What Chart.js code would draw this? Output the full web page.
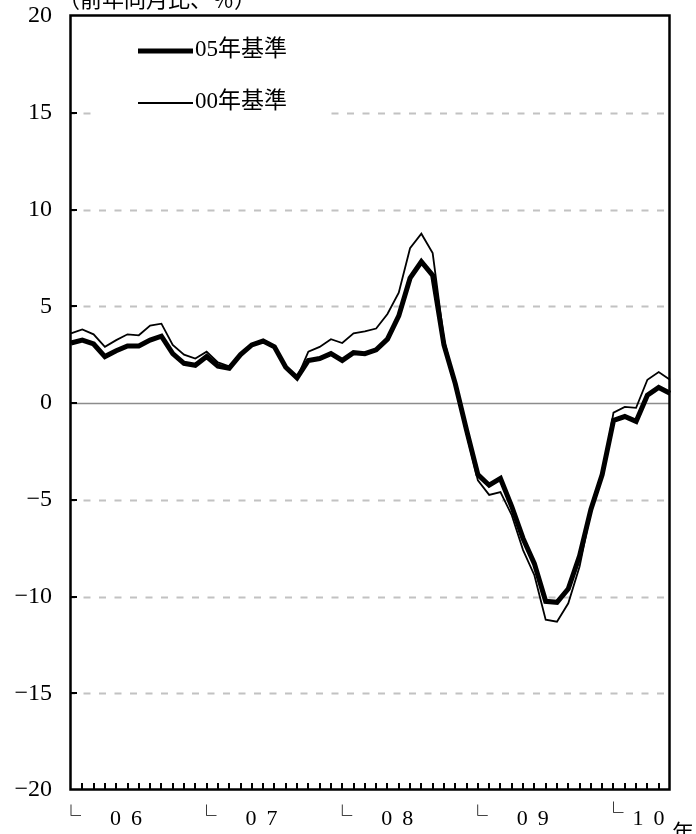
<!DOCTYPE html>
<html lang="ja">
<head>
<meta charset="utf-8">
<title>前年同月比</title>
<script src="https://cdn.jsdelivr.net/npm/chart.js@4.4.1/dist/chart.umd.min.js"></script>
<style>
  html, body { margin: 0; padding: 0; background: #fff; }
  #wrap { width: 696px; height: 834px; }
</style>
</head>
<body>
<div id="wrap"><canvas id="chart" width="696" height="834"></canvas></div>
<script>
/* monthly y/y change, 2006-01 .. 2010-06, two index bases */
const yearLabels = ['06', '07', '08', '09', '10'];
const seriesNames = ['05年基準', '00年基準'];
const yTitle = '（前年同月比、％）';
const xUnit = '年';

// category labels: one per month
const months = [];
yearLabels.forEach((yy, k) => {
  const last = k === yearLabels.length - 1 ? 6 : 12;
  for (let m = 1; m <= last; m++) months.push('20' + yy + '-' + String(m).padStart(2, '0'));
});

const base05 = [
  3.1, 3.25, 3.05, 2.4, 2.7, 2.95, 2.95, 3.25, 3.45, 2.55, 2.05, 1.95,
  2.4, 1.9, 1.8, 2.5, 3.0, 3.2, 2.9, 1.85, 1.3, 2.2, 2.3, 2.55,
  2.2, 2.6, 2.55, 2.75, 3.3, 4.5, 6.45, 7.3, 6.6, 3.0, 1.0, -1.4,
  -3.7, -4.25, -3.9, -5.35, -7.0, -8.3, -10.25, -10.3, -9.6, -7.9, -5.5, -3.7,
  -0.9, -0.7, -0.95, 0.4, 0.8, 0.5
];
const base00 = [
  3.6, 3.8, 3.55, 2.9, 3.25, 3.55, 3.5, 4.0, 4.1, 3.0, 2.5, 2.3,
  2.65, 2.1, 1.9, 2.5, 3.05, 3.25, 2.9, 1.85, 1.3, 2.65, 2.9, 3.3,
  3.1, 3.6, 3.7, 3.85, 4.6, 5.7, 8.0, 8.75, 7.75, 3.3, 1.0, -1.6,
  -4.0, -4.75, -4.6, -5.8, -7.6, -8.9, -11.2, -11.3, -10.35, -8.45, -5.6, -3.8,
  -0.5, -0.2, -0.25, 1.2, 1.6, 1.2
];

const serif = '"Liberation Serif", "Noto Sans CJK JP", serif';
const cjk = '"Noto Sans CJK JP", sans-serif';

// grid, frame, inner ticks, legend and axis texts
const decor = {
  id: 'decor',
  beforeDatasetsDraw(chart) {
    const { ctx, chartArea: a, scales: { y } } = chart;
    ctx.save();
    y.ticks.forEach(t => {
      if (t.value === y.min || t.value === y.max) return;
      const py = Math.round(y.getPixelForValue(t.value)) + 0.5;
      ctx.beginPath();
      if (t.value === 0) {
        ctx.setLineDash([]);
        ctx.strokeStyle = '#8c8c8c';
        ctx.lineWidth = 1.5;
      } else {
        ctx.setLineDash([7, 8.5]);
        ctx.lineDashOffset = 3;
        ctx.strokeStyle = '#c2c2c2';
        ctx.lineWidth = 2;
      }
      ctx.moveTo(a.left, py);
      ctx.lineTo(a.right, py);
      ctx.stroke();
    });
    ctx.setLineDash([]);

    // legend, white box over the grid
    ctx.fillStyle = '#fff';
    ctx.fillRect(a.left + 21, a.top + 10, 236, 92);
    const rows = [
      { name: seriesNames[0], w: 5, dy: 35 },
      { name: seriesNames[1], w: 2, dy: 87 }
    ];
    ctx.strokeStyle = '#000';
    ctx.fillStyle = '#000';
    ctx.font = '23px ' + serif;
    ctx.textBaseline = 'middle';
    ctx.textAlign = 'left';
    rows.forEach(r => {
      ctx.beginPath();
      ctx.lineWidth = r.w;
      ctx.moveTo(a.left + 67, a.top + r.dy);
      ctx.lineTo(a.left + 122, a.top + r.dy);
      ctx.stroke();
      ctx.fillText(r.name, a.left + 124, a.top + r.dy - 1);
    });
    ctx.restore();
  },
  afterDatasetsDraw(chart) {
    const { ctx, chartArea: a, scales: { x, y } } = chart;
    ctx.save();
    ctx.strokeStyle = '#000';
    ctx.fillStyle = '#000';

    // frame
    ctx.lineWidth = 2.5;
    ctx.strokeRect(a.left - 0.5, a.top - 0.5, a.right - a.left, a.bottom - a.top);

    // inner y ticks
    ctx.lineWidth = 2;
    y.ticks.forEach(t => {
      if (t.value === y.min || t.value === y.max) return;
      const py = Math.round(y.getPixelForValue(t.value));
      ctx.beginPath();
      ctx.moveTo(a.left, py);
      ctx.lineTo(a.left + 6, py);
      ctx.stroke();
    });

    // inner month ticks
    for (let i = 1; i < months.length - 1; i++) {
      const px = Math.round(x.getPixelForValue(i));
      ctx.beginPath();
      ctx.moveTo(px, a.bottom);
      ctx.lineTo(px, a.bottom - 7);
      ctx.stroke();
    }

    // year labels under January
    ctx.textAlign = 'left';
    ctx.textBaseline = 'alphabetic';
    yearLabels.forEach((yy, k) => {
      const px = x.getPixelForValue(k * 12);
      const tight = k === yearLabels.length - 1;
      ctx.font = '20px ' + cjk;
      ctx.fillText('└', px - 10, tight ? 820 : 823);
      ctx.font = '22px ' + serif;
      const o1 = tight ? 19 : 39;
      ctx.fillText(yy[0], px + o1, 825);
      ctx.fillText(yy[1], px + o1 + 21, 825);
    });
    ctx.font = '22px ' + cjk;
    ctx.fillText(xUnit, a.right + 2, 840);

    // unit title, cut at the top edge
    ctx.font = '22px ' + cjk;
    ctx.fillText(yTitle, 58, 7);
    ctx.restore();
  }
};

new Chart(document.getElementById('chart'), {
  type: 'line',
  data: {
    labels: months,
    datasets: [
      { label: seriesNames[0], data: base05, borderColor: '#000', borderWidth: 5, pointRadius: 0, tension: 0 },
      { label: seriesNames[1], data: base00, borderColor: '#000', borderWidth: 1.8, pointRadius: 0, tension: 0 }
    ]
  },
  options: {
    responsive: false,
    animation: false,
    layout: { padding: { left: 0, right: 26, top: 16, bottom: 44 } },
    plugins: { legend: { display: false }, tooltip: { enabled: false } },
    scales: {
      x: { type: 'category', display: false, offset: false },
      y: {
        min: -20, max: 20,
        afterFit: s => { s.width = 71; s.paddingTop = 0; s.paddingBottom = 0; },
        grid: { display: false, drawTicks: false },
        border: { display: false },
        ticks: {
          stepSize: 5,
          padding: 19,
          color: '#000',
          font: { family: 'Liberation Serif', size: 24 },
          callback: v => (v < 0 ? '\u2212' + Math.abs(v) : String(v))
        }
      }
    }
  },
  plugins: [decor]
});
</script>
</body>
</html>
